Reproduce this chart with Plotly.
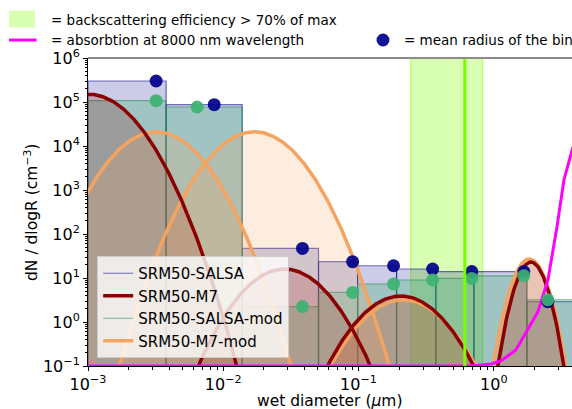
import numpy as np
import plotly.graph_objects as go

# ---------------- data ----------------
# SALSA size-bin edges (wet diameter, µm)
bin_edges = [0.001, 0.00378, 0.0138, 0.0506, 0.0984, 0.191, 0.372, 0.711, 1.754, 5.5]
# dN/dlogR per bin
salsa_vals = [3.0e5, 8.7e4, 47, 23.5, 19, 16, 14, 14, 2.9]
salsa_mod_vals = [1.07e5, 7.7e4, 2.24, 4.7, 7.3, 9.0, 9.8, 11.2, 3.2]
# mean radius of each bin (plotted position of the dots)
salsa_mean = [0.00319, 0.00857, 0.0385, 0.0904, 0.1815, 0.353, 0.687, 1.667, 2.51]
salsa_mod_mean = [0.00319, 0.00641, 0.0385, 0.0904, 0.1815, 0.353, 0.687, 1.667, 2.51]

# M7 lognormal modes: median diameter (µm), peak dN/dlogR, geometric std dev
m7_dg = [1.014e-3, 0.0283, 0.205, 1.88]
m7_peak = [1.5e5, 16, 3.9, 23]
m7_sigma = [1.606, 1.585, 1.585, 1.186]
m7mod_dg = [3.19e-3, 0.017, 0.214, 1.83]
m7mod_peak = [2.1e4, 2.1e4, 3.2, 27]
m7mod_sigma = [1.59, 1.59, 1.60, 1.204]

# absorption at 8000 nm (scaled onto the y axis)
absorb_d = [0.001, 0.676, 0.951, 1.127, 1.455, 1.786, 2.118, 2.512, 2.78, 2.93, 3.30, 3.85]
absorb_v = [0.1, 0.1, 0.111, 0.13, 0.23, 0.66, 1.69, 9, 51, 145, 1690, 9600]

# backscattering efficiency > 70% of max (range) and its maximum
backscatter_range = [0.243, 0.83]
backscatter_max = 0.61

# tick labels
x_exps = [-3, -2, -1, 0]
y_exps = [-1, 0, 1, 2, 3, 4, 5, 6]

FONT = "DejaVu Sans"
YBOT = 1e-3

def pow_label(e):
    return "10<sup>%s</sup>" % (str(e).replace("-", "−"))

def bin_polys(edges, vals):
    xs, ys = [], []
    for l, r, v in zip(edges[:-1], edges[1:], vals):
        xs += [l, l, r, r, l, None]
        ys += [YBOT, v, v, YBOT, YBOT, None]
    return xs, ys

def mode_curve(dg, peak, sigma):
    d = np.logspace(-3.6, 1.0, 700)
    y = peak * np.exp(-(np.log10(d / dg)) ** 2 / (2 * np.log10(sigma) ** 2))
    m = y > 2e-3
    return d[m], y[m]

def minor_vals(e0, e1):
    return [m * 10.0 ** e for e in range(e0, e1) for m in range(2, 10)]

fig = go.Figure()

# bins
bx, by = bin_polys(bin_edges, salsa_vals)
fig.add_trace(go.Scatter(x=bx, y=by, fill="toself", fillcolor="rgba(0,0,139,0.2)",
                         mode="lines", line=dict(width=0), showlegend=False, hoverinfo="skip"))
fig.add_trace(go.Scatter(x=bx, y=by, mode="lines", line=dict(color="rgba(0,0,139,0.55)", width=1.2),
                         name="SRM50-SALSA", legendrank=1, hoverinfo="skip"))
gx, gy = bin_polys(bin_edges, salsa_mod_vals)
fig.add_trace(go.Scatter(x=gx, y=gy, fill="toself", fillcolor="rgba(60,179,113,0.3)",
                         mode="lines", line=dict(width=0), showlegend=False, hoverinfo="skip"))
fig.add_trace(go.Scatter(x=gx, y=gy, mode="lines", line=dict(color="rgba(46,139,87,0.6)", width=1.2),
                         name="SRM50-SALSA-mod", legendrank=3, hoverinfo="skip"))

# mode fills
for dgs, pks, sgs, col in [(m7_dg, m7_peak, m7_sigma, "rgba(139,0,0,0.2)"),
                           (m7mod_dg, m7mod_peak, m7mod_sigma, "rgba(244,164,96,0.2)")]:
    for dg, pk, sg in zip(dgs, pks, sgs):
        d, y = mode_curve(dg, pk, sg)
        fx = list(d) + list(d[::-1])
        fy = list(y) + [YBOT] * len(d)
        fig.add_trace(go.Scatter(x=fx, y=fy, fill="toself", fillcolor=col, mode="lines",
                                 line=dict(width=0), showlegend=False, hoverinfo="skip"))

# mode lines
for dgs, pks, sgs, col, name, rank in [(m7mod_dg, m7mod_peak, m7mod_sigma, "#f4a460", "SRM50-M7-mod", 4),
                                       (m7_dg, m7_peak, m7_sigma, "#8b0000", "SRM50-M7", 2)]:
    for i, (dg, pk, sg) in enumerate(zip(dgs, pks, sgs)):
        d, y = mode_curve(dg, pk, sg)
        fig.add_trace(go.Scatter(x=d, y=y, mode="lines", line=dict(color=col, width=3.5),
                                 name=name, legendrank=rank, showlegend=(i == 0), hoverinfo="skip"))

# absorption
fig.add_trace(go.Scatter(x=absorb_d, y=absorb_v, mode="lines", line=dict(color="magenta", width=3),
                         showlegend=False, hoverinfo="skip"))

# mean radius dots
fig.add_trace(go.Scatter(x=salsa_mean, y=salsa_vals, mode="markers",
                         marker=dict(color="darkblue", size=13, opacity=0.92, line=dict(width=0)),
                         showlegend=False, cliponaxis=False))
fig.add_trace(go.Scatter(x=salsa_mod_mean, y=salsa_mod_vals, mode="markers",
                         marker=dict(color="mediumseagreen", size=13, opacity=0.92, line=dict(width=0)),
                         showlegend=False, cliponaxis=False))

shapes = [
    dict(type="rect", xref="x", yref="paper", x0=backscatter_range[0], x1=backscatter_range[1],
         y0=0, y1=1, fillcolor="rgba(127,255,0,0.3)", line=dict(color="rgba(127,255,0,0.6)", width=1),
         layer="below"),
    dict(type="line", xref="x", yref="paper", x0=backscatter_max, x1=backscatter_max, y0=0, y1=1,
         line=dict(color="#7cfc00", width=3), layer="above"),
    # top spine (grey)
    dict(type="line", xref="paper", yref="paper", x0=0, x1=1, y0=1, y1=1,
         line=dict(color="#8c8c8c", width=2)),
    # top legend symbols
    dict(type="rect", xref="paper", yref="paper", x0=-0.1632, x1=-0.1095, y0=1.0990, y1=1.1542,
         fillcolor="rgba(127,255,0,0.3)", line=dict(width=0)),
    dict(type="line", xref="paper", yref="paper", x0=-0.1632, x1=-0.1064, y0=1.0584, y1=1.0584,
         line=dict(color="magenta", width=3)),
    dict(type="circle", xref="paper", yref="paper", x0=0.5961, x1=0.6229, y0=1.0373, y1=1.0795,
         fillcolor="darkblue", opacity=0.92, line=dict(width=0)),
]

annotations = [
    dict(text="= backscattering efficiency > 70% of max", xref="paper", yref="paper",
         x=-0.0806, y=1.1250, xanchor="left", yanchor="middle", showarrow=False,
         font=dict(family=FONT, size=13.5, color="black")),
    dict(text="= absorbtion at 8000 nm wavelength", xref="paper", yref="paper",
         x=-0.0806, y=1.0584, xanchor="left", yanchor="middle", showarrow=False,
         font=dict(family=FONT, size=13.5, color="black")),
    dict(text="= mean radius of the bin", xref="paper", yref="paper",
         x=0.6488, y=1.0584, xanchor="left", yanchor="middle", showarrow=False,
         font=dict(family=FONT, size=13.5, color="black")),
    dict(text="dN / dlogR (cm<sup>−3</sup>)", xref="paper", yref="paper",
         x=-0.1178, y=0.5, xanchor="center", yanchor="middle", textangle=-90, showarrow=False,
         font=dict(family=FONT, size=15.5, color="black")),
    dict(text="wet diameter (<i>μ</i>m)", xref="paper", yref="paper",
         x=0.5, y=-0.115, xanchor="center", yanchor="middle", showarrow=False,
         font=dict(family=FONT, size=15.5, color="black")),
]

fig.update_layout(
    width=572, height=409,
    margin=dict(l=88, r=0, t=58, b=43),
    paper_bgcolor="white", plot_bgcolor="white",
    font=dict(family=FONT, color="black"),
    shapes=shapes, annotations=annotations,
    legend=dict(x=0.019, y=0.026, xanchor="left", yanchor="bottom",
                bgcolor="rgba(255,255,255,0.8)", bordercolor="#cccccc", borderwidth=1,
                font=dict(family=FONT, size=15, color="black"), tracegroupgap=0, itemwidth=30),
    xaxis=dict(type="log", range=[-3, 0.578],
               tickmode="array", tickvals=[10.0 ** e for e in x_exps],
               ticktext=[pow_label(e) for e in x_exps],
               showline=True, linecolor="black", linewidth=1, mirror=False,
               ticks="outside", ticklen=4, tickcolor="black", showgrid=False, zeroline=False,
               tickfont=dict(family=FONT, size=16),
               minor=dict(tickmode="array", tickvals=minor_vals(-3, 1), ticks="outside",
                          ticklen=2.5, tickcolor="black", showgrid=False)),
    yaxis=dict(type="log", range=[-1, 6],
               tickmode="array", tickvals=[10.0 ** e for e in y_exps],
               ticktext=[pow_label(e) for e in y_exps],
               showline=True, linecolor="black", linewidth=1,
               ticks="outside", ticklen=4, tickcolor="black", showgrid=False, zeroline=False,
               tickfont=dict(family=FONT, size=16),
               minor=dict(tickmode="array", tickvals=minor_vals(-1, 6), ticks="outside",
                          ticklen=2.5, tickcolor="black", showgrid=False)),
)

fig.write_html("out.html")
